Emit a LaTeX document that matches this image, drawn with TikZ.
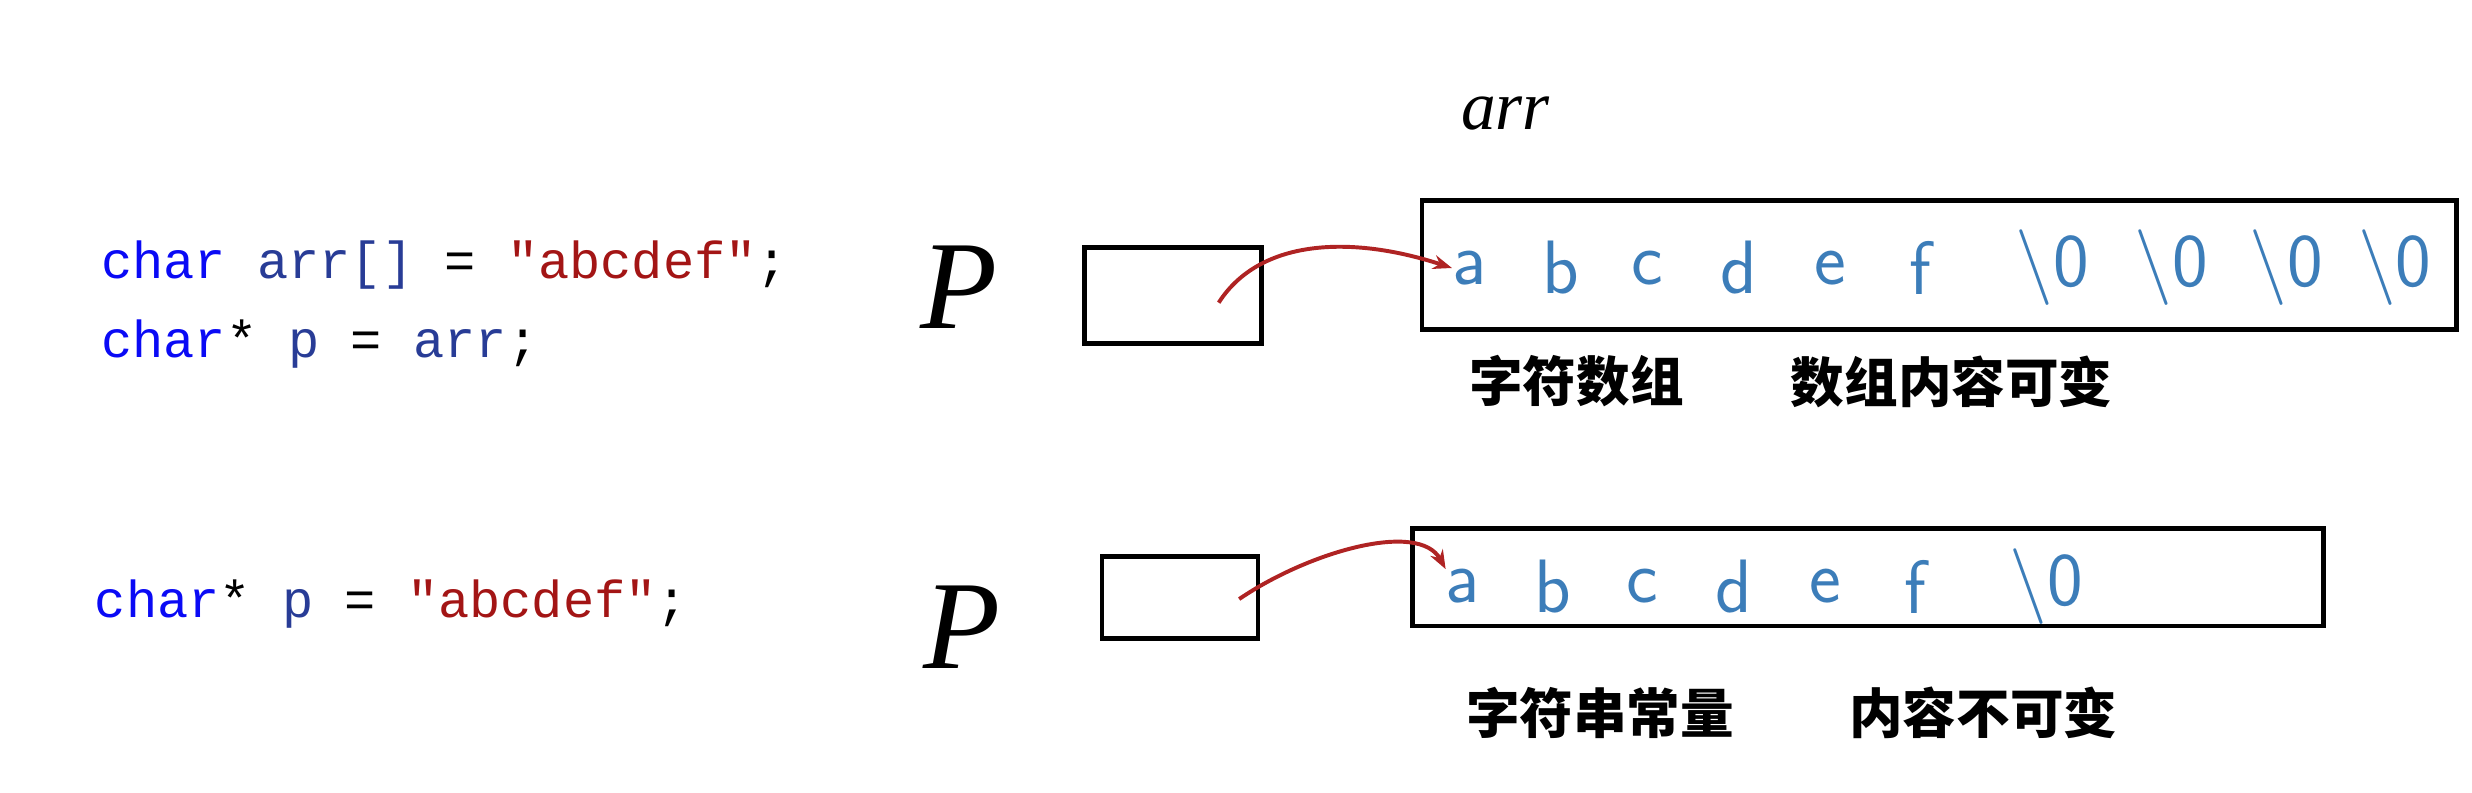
\documentclass[tikz,border=0pt]{standalone}
\usepackage{fontspec}
\usetikzlibrary{arrows.meta}
\setmainfont{Liberation Serif}
\setmonofont{Liberation Mono}
\newfontfamily\cjk{Noto Sans CJK SC}
\definecolor{kw}{RGB}{10,10,245}
\definecolor{idc}{RGB}{40,60,150}
\definecolor{strc}{RGB}{163,21,21}
\definecolor{lett}{RGB}{60,125,185}
\definecolor{arrc}{RGB}{175,35,35}
\newcommand{\qq}{\symbol{34}}
\begin{document}
\begin{tikzpicture}[x=1pt,y=-1pt,
  code/.style={anchor=west,inner sep=0,font=\fontsize{33}{36}\selectfont\ttfamily},
  ltr/.style={text=lett,inner sep=0,font=\fontsize{48}{48}\selectfont\sffamily},
  cn/.style={inner sep=0,font=\fontsize{34}{36}\selectfont\cjk\bfseries},
  pt/.style={inner sep=0,font=\fontsize{80}{80}\selectfont\itshape},
  ptr/.style={draw=arrc,line width=2.5pt,-{Stealth[length=12pt]}}]
\useasboundingbox (0,0) rectangle (1568,503);
\node[code] (c1) at (64,168) {\textcolor{kw}{char} \textcolor{idc}{arr[]} = \textcolor{strc}{\qq abcdef\qq};};
\node[code] (c2) at (64,218) {\textcolor{kw}{char}* \textcolor{idc}{p} = \textcolor{idc}{arr};};
\node[code] (c3) at (60,383) {\textcolor{kw}{char}* \textcolor{idc}{p} = \textcolor{strc}{\qq abcdef\qq};};
\node[pt] (p1) at (608,182) {P};
\node[pt] (p2) at (610,398) {P};
\draw[line width=3pt] (688,157) rectangle (800,218);
\draw[line width=3pt] (699,353) rectangle (798,405);
\coordinate (b1) at (773,192);
\coordinate (b2) at (786,380);
\draw[line width=3pt] (902,127) rectangle (1558,209);
\draw[line width=3pt] (896,335) rectangle (1474,397);
\node[inner sep=0,font=\fontsize{44}{44}\selectfont\itshape] (arr) at (955,72) {arr};
\foreach \t/\x [count=\i] in {a/932,b/990,c/1045,d/1103,e/1161,f/1218,\textbackslash0/1302,\textbackslash0/1377,\textbackslash0/1450,\textbackslash0/1519}
  \node[ltr] (r\i) at (\x,170) {\t};
\foreach \t/\x [count=\i] in {a/928,b/985,c/1042,d/1100,e/1158,f/1215,\textbackslash0/1298}
  \node[ltr] (s\i) at (\x,372) {\t};
\node[cn] (t1) at (1000,242) {字符数组};
\node[cn] (t2) at (1238,242) {数组内容可变};
\node[cn] (t3) at (1015,452) {字符串常量};
\node[cn] (t4) at (1258,452) {内容不可变};
\draw[ptr] (b1) .. controls (800,150) and (860,150) .. (r1.west);
\draw[ptr] (b2) .. controls (830,350) and (900,330) .. (s1.north west);
\end{tikzpicture}
\end{document}
